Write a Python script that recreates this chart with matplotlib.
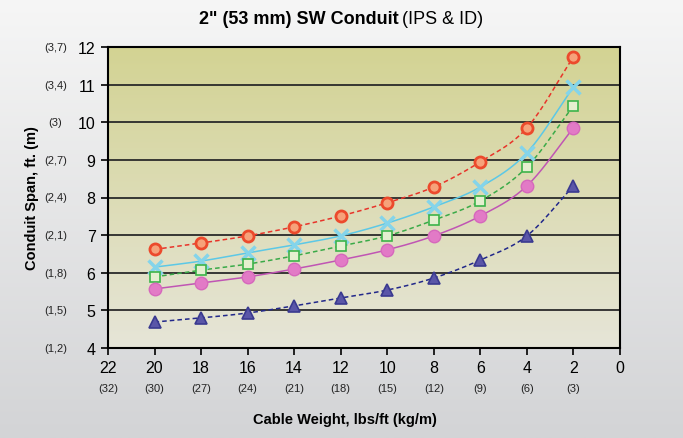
import numpy as np
import matplotlib
matplotlib.use("Agg")
import matplotlib.pyplot as plt
from matplotlib.colors import LinearSegmentedColormap

plt.rcParams["font.family"] = ["Liberation Sans", "DejaVu Sans"]

weight = [20, 18, 16, 14, 12, 10, 8, 6, 4, 2]
x_ticks = [22, 20, 18, 16, 14, 12, 10, 8, 6, 4, 2, 0]
x_metric = ["(32)", "(30)", "(27)", "(24)", "(21)", "(18)", "(15)", "(12)", "(9)", "(6)", "(3)"]
y_ticks = [4, 5, 6, 7, 8, 9, 10, 11, 12]
y_metric = ["(1,2)", "(1,5)", "(1,8)", "(2,1)", "(2,4)", "(2,7)", "(3)", "(3,4)", "(3,7)"]

span_red = [6.62, 6.79, 6.98, 7.22, 7.51, 7.86, 8.28, 8.95, 9.85, 11.74]
span_cyan = [6.15, 6.31, 6.53, 6.74, 6.98, 7.32, 7.75, 8.28, 9.19, 10.94]
span_green = [5.89, 6.07, 6.23, 6.45, 6.71, 6.98, 7.40, 7.91, 8.81, 10.44]
span_pink = [5.57, 5.73, 5.89, 6.10, 6.34, 6.61, 6.98, 7.51, 8.31, 9.85]
span_navy = [4.69, 4.80, 4.93, 5.12, 5.33, 5.54, 5.86, 6.34, 6.98, 8.31]


def smooth(x, y, n=20):
    # catmull-rom through the points, for the curved connecting lines
    x = np.asarray(x, float)
    y = np.asarray(y, float)
    px = np.concatenate([[2 * x[0] - x[1]], x, [2 * x[-1] - x[-2]]])
    py = np.concatenate([[2 * y[0] - y[1]], y, [2 * y[-1] - y[-2]]])
    xs, ys = [], []
    t = np.linspace(0, 1, n)
    for i in range(1, len(px) - 2):
        for p, out in ((px, xs), (py, ys)):
            p0, p1, p2, p3 = p[i - 1], p[i], p[i + 1], p[i + 2]
            out.extend(0.5 * ((2 * p1) + (-p0 + p2) * t
                              + (2 * p0 - 5 * p1 + 4 * p2 - p3) * t ** 2
                              + (-p0 + 3 * p1 - 3 * p2 + p3) * t ** 3))
    return xs, ys


fig = plt.figure(figsize=(6.83, 4.39), dpi=100)

# light grey gradient behind everything
bg = fig.add_axes([0, 0, 1, 1], zorder=-10)
bg_cmap = LinearSegmentedColormap.from_list("bg", ["#d3d4d6", "#f6f6f6"])
bg.imshow(np.linspace(0, 1, 256).reshape(-1, 1), cmap=bg_cmap, aspect="auto",
          origin="lower", extent=[0, 1, 0, 1])
bg.axis("off")

ax = fig.add_axes([108 / 683, 1 - 349 / 439, 512 / 683, 301 / 439])
plot_cmap = LinearSegmentedColormap.from_list("pl", ["#e6e5d8", "#d3d393"])
ax.imshow(np.linspace(0, 1, 256).reshape(-1, 1), cmap=plot_cmap, aspect="auto",
          origin="lower", extent=[22, 0, 4, 12], zorder=0)

for yv in y_ticks[1:-1]:
    ax.axhline(yv, color="#2a2a2a", lw=1.3, zorder=1)

series = [
    (span_red, "#e8342a", "--", dict(marker="o", ms=8, mfc="#f6a27a", mec="#ec4a2c", mew=2)),
    (span_cyan, "#5cc8e6", "-", dict(marker="x", ms=10, mec="#84d4ea", mew=2.5)),
    (span_green, "#3aaa48", "--", dict(marker="s", ms=7, mfc="#e4efcf", mec="#3cb44a", mew=1.2)),
    (span_pink, "#c055b4", "-", dict(marker="o", ms=9, mfc="#e27ac6", mec="#d668bc", mew=1)),
    (span_navy, "#22288a", "--", dict(marker="^", ms=9, mfc="#5a56a8", mec="#3a3a90", mew=1.2)),
]
for vals, col, ls, mk in series:
    sx, sy = smooth(weight, vals)
    ax.plot(sx, sy, color=col, ls=ls, lw=1.1, dashes=(3, 2) if ls == "--" else (None, None), zorder=3)
    ax.plot(weight, vals, ls="none", zorder=4, **mk)

ax.set_xlim(22, 0)
ax.set_ylim(4, 12)
ax.set_xticks(x_ticks)
ax.set_xticklabels([str(v) for v in x_ticks], fontsize=11.5)
ax.set_yticks(y_ticks)
ax.set_yticklabels([str(v) for v in y_ticks], fontsize=11.5)
ax.tick_params(direction="out", length=5, width=1.2, color="black", pad=4)
for s in ax.spines.values():
    s.set_linewidth(1.5)
    s.set_color("black")

for xv, lab in zip(x_ticks, x_metric):
    ax.text(xv, -0.133, lab, transform=ax.get_xaxis_transform(), ha="center", va="center",
            fontsize=8, color="#222222")
for yv, lab in zip(y_ticks, y_metric):
    ax.text(-0.103, yv, lab, transform=ax.get_yaxis_transform(), ha="center", va="center",
            fontsize=8, color="#222222")

fig.text(32 / 683, 1 - 198 / 439, "Conduit Span, ft. (m)", rotation=90, ha="center",
         va="center", fontsize=10.5, fontweight="bold")
fig.text(345 / 683, 1 - 420 / 439, "Cable Weight, lbs/ft (kg/m)", ha="center", va="center",
         fontsize=10.5, fontweight="bold")

fig.text(399 / 683, 1 - 19 / 439, "2\" (53 mm) SW Conduit", ha="right", va="center",
         fontsize=13, fontweight="bold")
fig.text(402 / 683, 1 - 19 / 439, "(IPS & ID)", ha="left", va="center", fontsize=13)

fig.savefig("out.png", dpi=100)
